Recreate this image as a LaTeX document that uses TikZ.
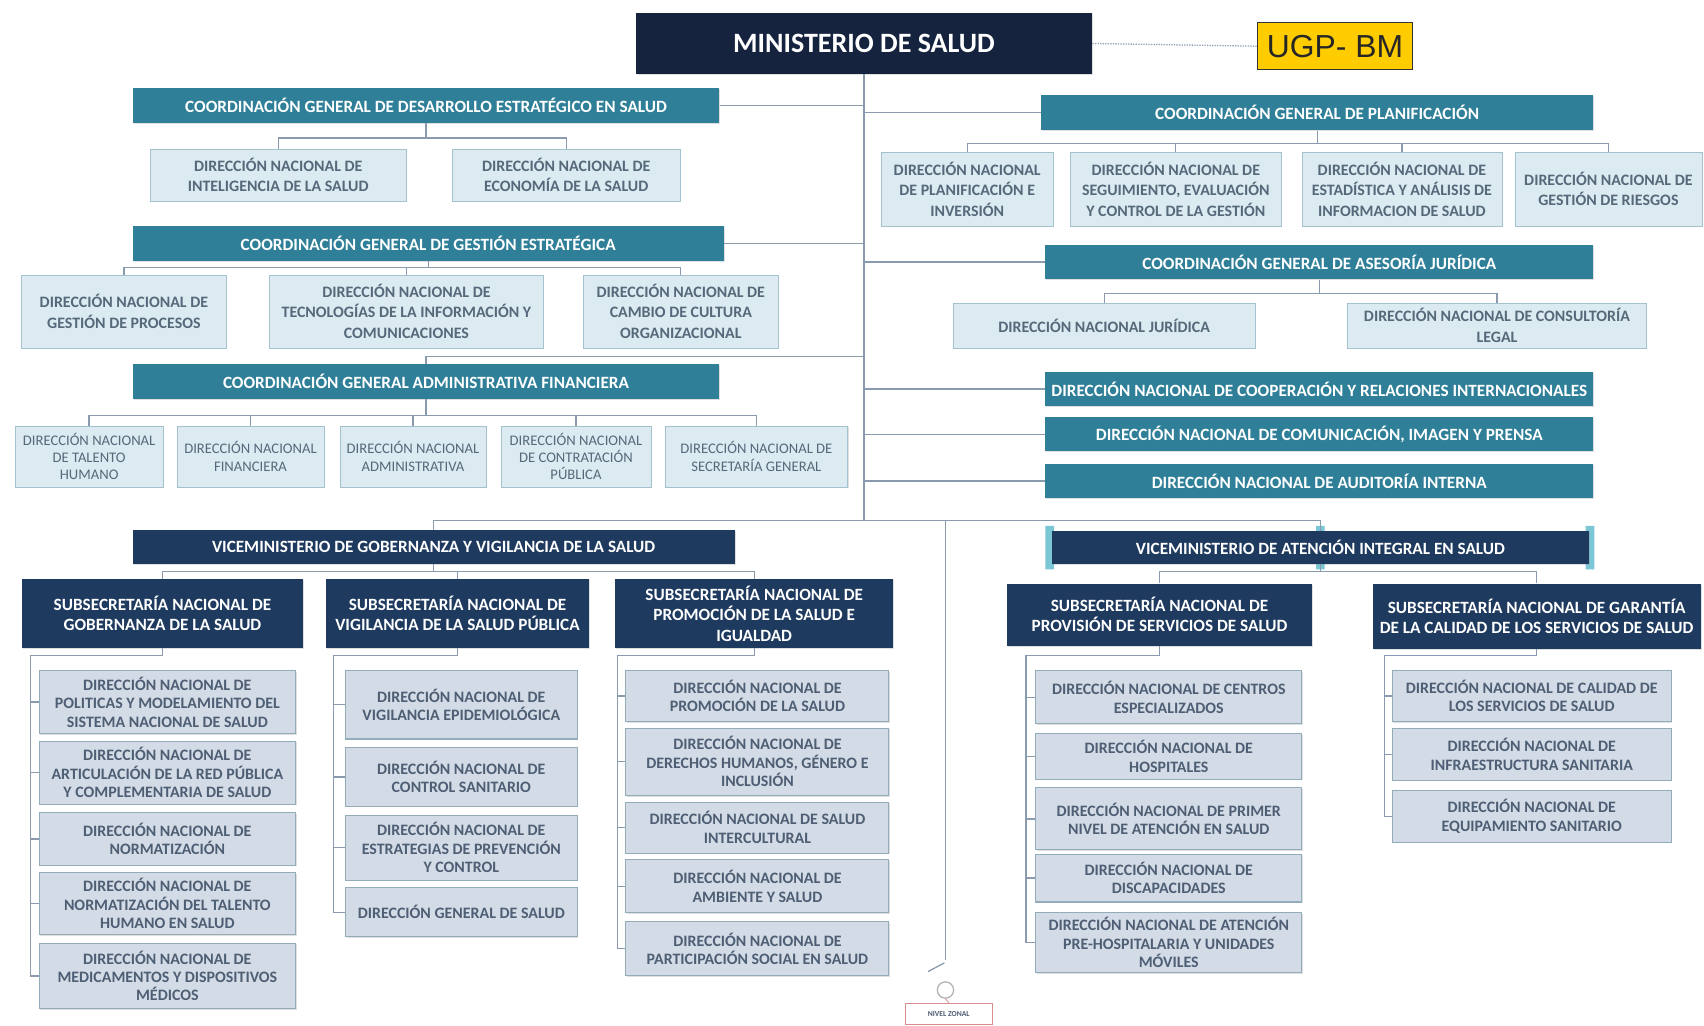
\documentclass[tikz,border=0pt]{standalone}
\usepackage{fontspec}
\setmainfont{Carlito}
\newfontfamily\ugpfont{Liberation Sans}
\usepackage{tikz}
\usetikzlibrary{calc,shadows}

\definecolor{navyD}{HTML}{15233F}
\definecolor{navy}{HTML}{1E3A5F}
\definecolor{tealbox}{HTML}{2F7F98}
\definecolor{lightA}{HTML}{DCEBF1}
\definecolor{lightAb}{HTML}{A3C2CE}
\definecolor{txtA}{HTML}{56697B}
\definecolor{lightB}{HTML}{D3DCE6}
\definecolor{lightBb}{HTML}{92ACBA}
\definecolor{txtB}{HTML}{4E5E74}
\definecolor{linec}{HTML}{8A9BB0}
\definecolor{ugpyellow}{HTML}{FFCC00}
\definecolor{zonalred}{HTML}{D98C8C}
\definecolor{handle}{HTML}{7CC7D6}

% box from corner (x1,y1) to corner (x2,y2), in pixels of the chart
\newcommand{\orgbox}[7]{%
  \node[#1, minimum width={(#5-(#3))*0.03cm}, minimum height={(#6-(#4))*0.03cm}]
    (#2) at ({(#3+#5)/2},{(#4+#6)/2}) {#7};}

\begin{document}
\begin{tikzpicture}[x=0.03cm, y=-0.03cm,
  base/.style={rectangle, align=center, inner sep=1pt},
  shade/.style={drop shadow={shadow xshift=0.8pt, shadow yshift=-0.8pt, opacity=0.25}},
  ministry/.style={base, fill=navyD, text=white, shade, font=\fontsize{22}{26}\selectfont\bfseries},
  ugpbox/.style={base, fill=ugpyellow, draw=black!80, line width=1pt, text=black!85, font=\ugpfont\fontsize{25}{28}\selectfont},
  coord/.style={base, fill=tealbox, text=white, shade, font=\fontsize{13.5}{16}\selectfont\bfseries},
  dnlight/.style={base, fill=lightA, draw=lightAb, text=txtA, shade, font=\fontsize{12.5}{16}\selectfont\bfseries},
  dnsmall/.style={dnlight, font=\fontsize{11.5}{13.5}\selectfont},
  vice/.style={base, fill=navy, text=white, shade, font=\fontsize{13.5}{16}\selectfont\bfseries},
  subsec/.style={vice, font=\fontsize{13.5}{16}\selectfont\bfseries},
  dngray/.style={base, fill=lightB, draw=lightBb, line width=0.8pt, text=txtB, shade, font=\fontsize{12.5}{14.5}\selectfont\bfseries},
  zonal/.style={base, draw=zonalred, fill=white, line width=0.8pt, text=txtB, font=\fontsize{6}{7}\selectfont\bfseries},
  conn/.style={draw=linec, line width=1pt}]

\fill[white] (0,0) rectangle (1568,944);
\useasboundingbox (0,0) rectangle (1568,944);

% top
\orgbox{ministry}{min}{585}{12}{1005}{68}{MINISTERIO DE SALUD}
\orgbox{ugpbox}{ugp}{1157}{21}{1300}{64}{UGP- BM}
\draw[densely dotted, draw=linec, line width=1pt] (min.east) -- (ugp.west);

% left column
\orgbox{coord}{cgde}{122}{81}{662}{113}{COORDINACIÓN GENERAL DE DESARROLLO ESTRATÉGICO EN SALUD}
\orgbox{dnlight}{dnint}{138}{137}{374}{185}{DIRECCIÓN NACIONAL DE\\INTELIGENCIA DE LA SALUD}
\orgbox{dnlight}{dneco}{416}{137}{626}{185}{DIRECCIÓN NACIONAL DE\\ECONOMÍA DE LA SALUD}

\orgbox{coord}{cgge}{122}{208}{666}{240}{COORDINACIÓN GENERAL DE GESTIÓN ESTRATÉGICA}
\orgbox{dnlight}{dnpro}{20}{253}{208}{320}{DIRECCIÓN NACIONAL DE\\GESTIÓN DE PROCESOS}
\orgbox{dnlight}{dntic}{248}{253}{500}{320}{DIRECCIÓN NACIONAL DE\\TECNOLOGÍAS DE LA INFORMACIÓN Y\\COMUNICACIONES}
\orgbox{dnlight}{dncul}{537}{253}{716}{320}{DIRECCIÓN NACIONAL DE\\CAMBIO DE CULTURA\\ORGANIZACIONAL}

\orgbox{coord}{cgaf}{122}{335}{662}{367}{COORDINACIÓN GENERAL ADMINISTRATIVA FINANCIERA}
\orgbox{dnsmall}{dnth}{14}{392}{150}{448}{DIRECCIÓN NACIONAL\\DE TALENTO\\HUMANO}
\orgbox{dnsmall}{dnfin}{163}{392}{298}{448}{DIRECCIÓN NACIONAL\\FINANCIERA}
\orgbox{dnsmall}{dnadm}{313}{392}{447}{448}{DIRECCIÓN NACIONAL\\ADMINISTRATIVA}
\orgbox{dnsmall}{dncp}{461}{392}{599}{448}{DIRECCIÓN NACIONAL\\DE CONTRATACIÓN\\PÚBLICA}
\orgbox{dnsmall}{dnsg}{612}{392}{780}{448}{DIRECCIÓN NACIONAL DE\\SECRETARÍA GENERAL}

% right column
\orgbox{coord}{cgpl}{958}{87}{1466}{120}{COORDINACIÓN GENERAL DE PLANIFICACIÓN}
\orgbox{dnlight}{dnpi}{811}{140}{969}{208}{DIRECCIÓN NACIONAL\\DE PLANIFICACIÓN E\\INVERSIÓN}
\orgbox{dnlight}{dnsec}{985}{140}{1179}{208}{DIRECCIÓN NACIONAL DE\\SEGUIMIENTO, EVALUACIÓN\\Y CONTROL DE LA GESTIÓN}
\orgbox{dnlight}{dnest}{1198}{140}{1382}{208}{DIRECCIÓN NACIONAL DE\\ESTADÍSTICA Y ANÁLISIS DE\\INFORMACION DE SALUD}
\orgbox{dnlight}{dnrie}{1394}{140}{1566}{208}{DIRECCIÓN NACIONAL DE\\GESTIÓN DE RIESGOS}

\orgbox{coord}{cgaj}{962}{225}{1466}{257}{COORDINACIÓN GENERAL DE ASESORÍA JURÍDICA}
\orgbox{dnlight}{dnjur}{877}{279}{1155}{320}{DIRECCIÓN NACIONAL JURÍDICA}
\orgbox{dnlight}{dncon}{1240}{279}{1515}{320}{DIRECCIÓN NACIONAL DE CONSULTORÍA\\LEGAL}

\orgbox{coord}{dnci}{962}{342}{1466}{374}{DIRECCIÓN NACIONAL DE COOPERACIÓN Y RELACIONES INTERNACIONALES}
\orgbox{coord}{dncom}{962}{384}{1466}{415}{DIRECCIÓN NACIONAL DE COMUNICACIÓN, IMAGEN Y PRENSA}
\orgbox{coord}{dnai}{962}{427}{1466}{458}{DIRECCIÓN NACIONAL DE AUDITORÍA INTERNA}

% trunk and its branches
\draw[conn] (min.south) -- (min.south |- 0,479) coordinate (hub);
\foreach \c in {cgde,cgge}
  \draw[conn] (\c.east) -- (min.south |- \c.east);
\draw[conn] (cgaf.north) |- (min.south |- 0,328);
\foreach \c in {cgpl,cgaj,dnci,dncom,dnai}
  \draw[conn] (min.south |- \c.west) -- (\c.west);

% buses under the coordinations
\foreach \c in {dnint,dneco}
  \draw[conn] (cgde.south) |- (\c.north |- 0,127) -- (\c.north);
\foreach \c in {dnpro,dntic,dncul}
  \draw[conn] (cgge.south) |- (\c.north |- 0,246) -- (\c.north);
\foreach \c in {dnth,dnfin,dnadm,dncp,dnsg}
  \draw[conn] (cgaf.south) |- (\c.north |- 0,382) -- (\c.north);
\foreach \c in {dnpi,dnsec,dnest,dnrie}
  \draw[conn] (cgpl.south) |- (\c.north |- 0,132) -- (\c.north);
\foreach \c in {dnjur,dncon}
  \draw[conn] (cgaj.south) |- (\c.north |- 0,270) -- (\c.north);

% viceministries
\orgbox{vice}{vgob}{122}{488}{676}{519}{VICEMINISTERIO DE GOBERNANZA Y VIGILANCIA DE LA SALUD}
\fill[handle] (962,484) rectangle (970,524) (1459,484) rectangle (1467,524)
  (1211,484) rectangle (1219,490) (1211,518) rectangle (1219,524);
\orgbox{vice}{vat}{968}{489}{1462}{519}{VICEMINISTERIO DE ATENCIÓN INTEGRAL EN SALUD}
\draw[conn] (vgob.north) |- (hub);
\draw[conn] (vat.north) |- (hub);

% nivel zonal
\node[circle, draw=gray!60, line width=1pt, minimum size=15*0.03cm, inner sep=0pt] (zc) at (870,911) {};
\orgbox{zonal}{nz}{833}{923}{913}{943}{NIVEL ZONAL}
\coordinate (zt) at (870,883);
\draw[conn] (zc.north |- hub) -- (zt);
\draw[conn] (zt) ++(-1,3) -- ++(-15,8);
\draw[draw=zonalred, line width=0.6pt] (zc.south) -- (nz.north);

% subsecretarias
\orgbox{subsec}{sgob}{20}{533}{279}{596}{SUBSECRETARÍA NACIONAL DE\\GOBERNANZA DE LA SALUD}
\orgbox{subsec}{svig}{300}{533}{542}{596}{SUBSECRETARÍA NACIONAL DE\\VIGILANCIA DE LA SALUD PÚBLICA}
\orgbox{subsec}{sprom}{566}{533}{822}{596}{SUBSECRETARÍA NACIONAL DE\\PROMOCIÓN DE LA SALUD E\\IGUALDAD}
\orgbox{subsec}{sprov}{927}{537}{1207}{594}{SUBSECRETARÍA NACIONAL DE\\PROVISIÓN DE SERVICIOS DE SALUD}
\orgbox{subsec}{sgar}{1263}{537}{1565}{597}{SUBSECRETARÍA NACIONAL DE GARANTÍA\\DE LA CALIDAD DE LOS SERVICIOS DE SALUD}
\foreach \c in {sgob,svig,sprom}
  \draw[conn] (vgob.south) |- (\c.north |- 0,526) -- (\c.north);
\foreach \c in {sprov,sgar}
  \draw[conn] (vat.south) |- (\c.north |- 0,526) -- (\c.north);

% direcciones under each subsecretaria
\orgbox{dngray}{g1}{36}{617}{272}{675}{DIRECCIÓN NACIONAL DE\\POLITICAS Y MODELAMIENTO DEL\\SISTEMA NACIONAL DE SALUD}
\orgbox{dngray}{g2}{36}{682}{272}{740}{DIRECCIÓN NACIONAL DE\\ARTICULACIÓN DE LA RED PÚBLICA\\Y COMPLEMENTARIA DE SALUD}
\orgbox{dngray}{g3}{36}{748}{272}{796}{DIRECCIÓN NACIONAL DE\\NORMATIZACIÓN}
\orgbox{dngray}{g4}{36}{803}{272}{860}{DIRECCIÓN NACIONAL DE\\NORMATIZACIÓN DEL TALENTO\\HUMANO EN SALUD}
\orgbox{dngray}{g5}{36}{868}{272}{928}{DIRECCIÓN NACIONAL DE\\MEDICAMENTOS Y DISPOSITIVOS\\MÉDICOS}

\orgbox{dngray}{v1}{318}{617}{531}{680}{DIRECCIÓN NACIONAL DE\\VIGILANCIA EPIDEMIOLÓGICA}
\orgbox{dngray}{v2}{318}{688}{531}{742}{DIRECCIÓN NACIONAL DE\\CONTROL SANITARIO}
\orgbox{dngray}{v3}{318}{750}{531}{810}{DIRECCIÓN NACIONAL DE\\ESTRATEGIAS DE PREVENCIÓN\\Y CONTROL}
\orgbox{dngray}{v4}{318}{817}{531}{862}{DIRECCIÓN GENERAL DE SALUD}

\orgbox{dngray}{p1}{576}{617}{818}{664}{DIRECCIÓN NACIONAL DE\\PROMOCIÓN DE LA SALUD}
\orgbox{dngray}{p2}{576}{670}{818}{732}{DIRECCIÓN NACIONAL DE\\DERECHOS HUMANOS, GÉNERO E\\INCLUSIÓN}
\orgbox{dngray}{p3}{576}{738}{818}{785}{DIRECCIÓN NACIONAL DE SALUD\\INTERCULTURAL}
\orgbox{dngray}{p4}{576}{791}{818}{840}{DIRECCIÓN NACIONAL DE\\AMBIENTE Y SALUD}
\orgbox{dngray}{p5}{576}{848}{818}{898}{DIRECCIÓN NACIONAL DE\\PARTICIPACIÓN SOCIAL EN SALUD}

\orgbox{dngray}{a1}{953}{617}{1198}{666}{DIRECCIÓN NACIONAL DE CENTROS\\ESPECIALIZADOS}
\orgbox{dngray}{a2}{953}{675}{1198}{717}{DIRECCIÓN NACIONAL DE\\HOSPITALES}
\orgbox{dngray}{a3}{953}{725}{1198}{782}{DIRECCIÓN NACIONAL DE PRIMER\\NIVEL DE ATENCIÓN EN SALUD}
\orgbox{dngray}{a4}{953}{786}{1198}{830}{DIRECCIÓN NACIONAL DE\\DISCAPACIDADES}
\orgbox{dngray}{a5}{953}{840}{1198}{895}{DIRECCIÓN NACIONAL DE ATENCIÓN\\PRE-HOSPITALARIA Y UNIDADES\\MÓVILES}

\orgbox{dngray}{c1}{1281}{617}{1538}{664}{DIRECCIÓN NACIONAL DE CALIDAD DE\\LOS SERVICIOS DE SALUD}
\orgbox{dngray}{c2}{1281}{670}{1538}{718}{DIRECCIÓN NACIONAL DE\\INFRAESTRUCTURA SANITARIA}
\orgbox{dngray}{c3}{1281}{727}{1538}{775}{DIRECCIÓN NACIONAL DE\\EQUIPAMIENTO SANITARIO}

% spines
\draw[conn] (sgob.south) |- (28,603) |- (g5.west);
\foreach \i in {1,...,4} \draw[conn] (28,0 |- g\i.west) -- (g\i.west);
\draw[conn] (svig.south) |- (307,603) |- (v4.west);
\foreach \i in {1,...,3} \draw[conn] (307,0 |- v\i.west) -- (v\i.west);
\draw[conn] (sprom.south) |- (568,603) |- (p5.west);
\foreach \i in {1,...,4} \draw[conn] (568,0 |- p\i.west) -- (p\i.west);
\draw[conn] (sprov.south) |- (944,603) |- (a5.west);
\foreach \i in {1,...,4} \draw[conn] (944,0 |- a\i.west) -- (a\i.west);
\draw[conn] (sgar.south) |- (1274,603) |- (c3.west);
\foreach \i in {1,2} \draw[conn] (1274,0 |- c\i.west) -- (c\i.west);
\end{tikzpicture}
\end{document}
